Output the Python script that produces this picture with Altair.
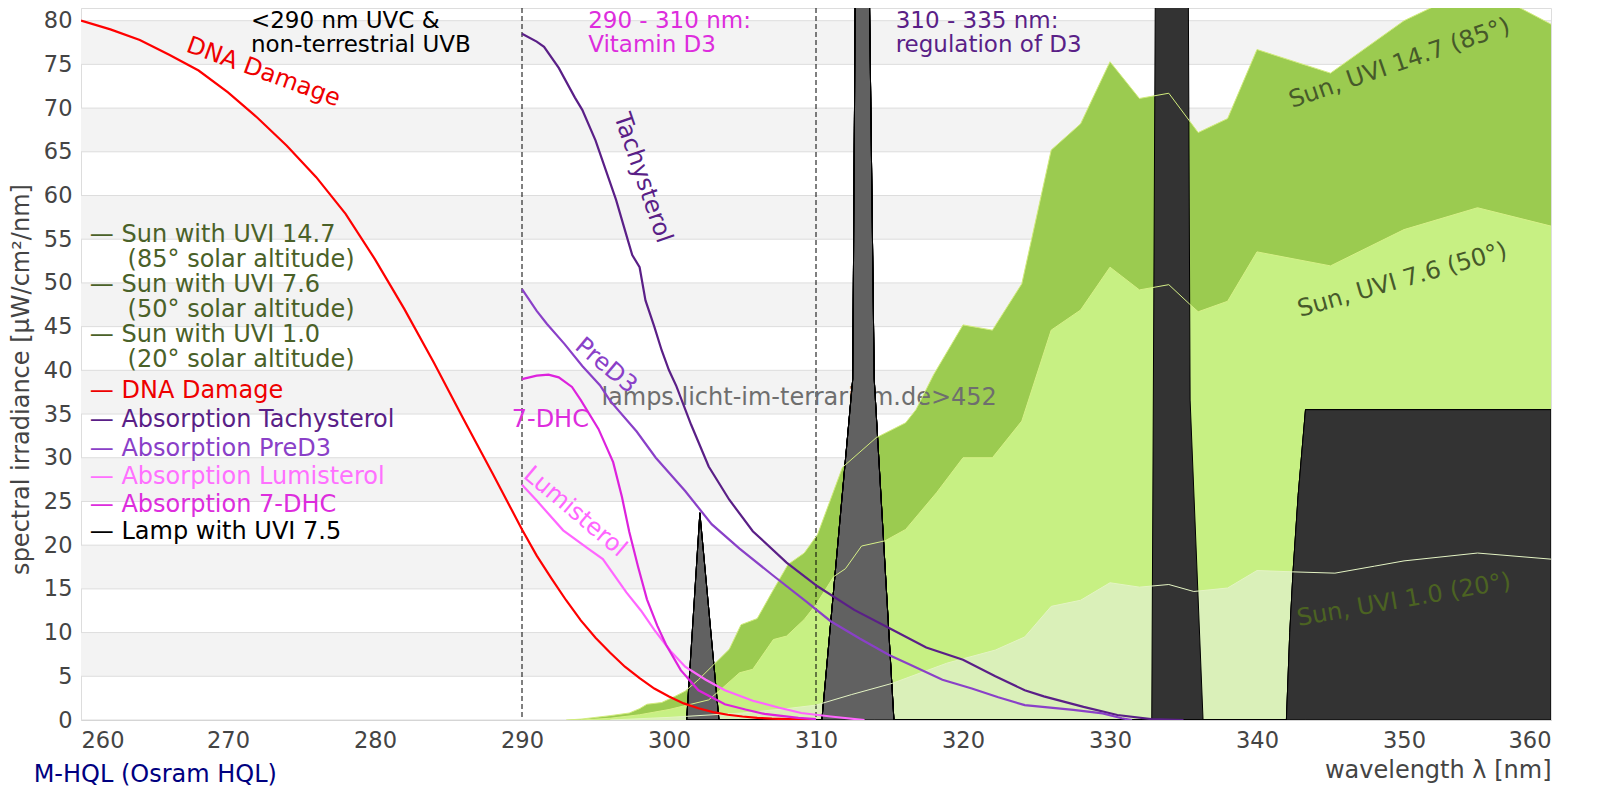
import altair as alt
import pandas as pd

FONT = "DejaVu Sans"
FS = 24          # annotation / legend / title text
FS_NOTE = 23     # region notes at the top
FS_TICK = 22.5   # tick labels
W, H = 1470, 712
Y_MAX = 81.45

# ---------------- data ----------------
dna_nm = [260, 262, 264, 266, 268, 270, 272, 274, 276, 278, 280, 282, 284, 286, 288, 290,
          291, 292, 293, 294, 295, 296, 297, 298, 299, 300, 301, 302, 303, 304, 305, 306, 307, 308, 310]
dna_val = [80.0, 79.0, 77.8, 76.1, 74.3, 71.8, 68.9, 65.7, 62.1, 57.9, 52.7, 47.0, 40.9, 34.5, 28.2, 21.8,
           18.8, 16.2, 13.7, 11.4, 9.4, 7.7, 6.1, 4.8, 3.6, 2.7, 1.9, 1.35, 0.9, 0.6, 0.4, 0.25, 0.15, 0.1, 0.05]

tachy_nm = [290, 291, 291.5, 292.5, 293.6, 294.1, 295, 295.7, 296.4, 297.2, 297.5, 298, 298.4, 299, 299.5,
            300, 300.5, 301.5, 302.7, 304.1, 305.7, 308, 310.1, 312.6, 315, 317.5, 320, 322.2, 324.2, 325.5,
            328.2, 330.5, 332.8, 335]
tachy_val = [78.5, 77.6, 77.0, 74.6, 71.2, 69.8, 66.3, 62.9, 59.5, 54.9, 53.2, 51.8, 48.0, 45.0, 42.3,
             40.0, 38.2, 33.8, 29.0, 25.2, 21.6, 18.0, 15.3, 12.6, 10.5, 8.3, 6.9, 5.0, 3.4, 2.7,
             1.5, 0.57, 0.1, 0.0]

pred3_nm = [290, 291, 291.7, 292.9, 294.1, 295.3, 296, 297.8, 299.1, 301.1, 302.9, 304.8, 307.1, 309.3, 311,
            313, 315, 316.3, 318.6, 320.6, 322.4, 324.2, 327.5, 329.5, 330.8, 331.5]
pred3_val = [49.3, 46.8, 45.3, 43.0, 40.5, 38.3, 36.5, 33.0, 30.0, 26.2, 22.4, 19.6, 16.5, 13.6, 11.3,
             9.3, 7.4, 6.4, 4.6, 3.6, 2.6, 1.7, 1.15, 0.76, 0.2, 0.0]

dhc_nm = [290, 291, 291.8, 292.5, 293.4, 294, 295.2, 296.2, 296.8, 297.3, 297.9, 298.5, 299.2, 299.8, 300.8,
          302, 303.8, 305.2, 306.5, 308.8, 310]
dhc_val = [39.0, 39.4, 39.5, 39.2, 38.1, 36.6, 33.3, 29.5, 25.5, 21.5, 17.5, 13.8, 10.8, 8.6, 5.7,
           3.4, 1.8, 1.2, 0.7, 0.25, 0.1]

lumi_nm = [290, 291, 292.8, 294.5, 295.5, 297.1, 298.1, 299, 300.1, 301.1, 302.5, 303.8, 305.7, 307.5, 309,
           311, 313.3]
lumi_val = [26.9, 25.1, 21.7, 19.6, 18.4, 14.6, 12.5, 10.3, 7.9, 6.1, 4.6, 3.4, 2.2, 1.4, 0.8,
            0.4, 0.0]

sun147_nm = [293, 294, 295, 296, 297.3, 298, 298.5, 299.5, 300.4, 301.1, 302, 302.9, 304.1, 304.9, 306,
             307.1, 308.1, 309.2, 310.1, 311.8, 314.1, 316.1, 316.8, 318, 320, 322, 324, 326, 328, 330,
             332, 334, 336, 338, 340, 345, 350, 355, 360]
sun147_val = [0.0, 0.1, 0.3, 0.5, 0.8, 1.3, 1.8, 2.0, 2.7, 3.3, 4.6, 6.1, 8.1, 10.9, 11.6,
              14.9, 17.8, 19.1, 21.2, 28.9, 32.3, 34.0, 35.5, 39.5, 45.2, 44.6, 49.9, 65.2, 68.2, 75.3,
              71.1, 71.7, 67.2, 68.8, 76.7, 74.0, 80.0, 84.0, 79.6]

sun76_nm = [294, 296, 298, 300, 301, 302.7, 303.6, 304.8, 305.7, 307.1, 308, 309.2, 310, 311.2, 312,
            313.1, 314.7, 316.1, 318.2, 320, 322, 324, 326, 328, 330, 332, 334, 335.4, 336, 338, 340,
            345, 350, 355, 360]
sun76_val = [0.0, 0.2, 0.6, 1.2, 1.6, 2.3, 3.6, 5.4, 5.8, 9.2, 9.6, 11.5, 13.2, 16.4, 17.3,
             19.9, 20.5, 21.8, 26.0, 30.0, 30.0, 34.2, 44.6, 46.9, 51.8, 49.2, 49.8, 47.6, 46.7, 47.9, 53.55,
             51.95, 56.1, 58.6, 56.5]

sun10_nm = [296, 300, 305, 308, 310, 312.4, 315.2, 318.9, 322.2, 324.2, 326, 328, 330, 332, 334, 335.7,
            338, 340, 342.4, 345.3, 348, 350, 355, 360]
sun10_val = [0.0, 0.3, 0.8, 1.3, 1.7, 2.9, 4.2, 6.5, 8.0, 9.5, 13.0, 13.7, 15.7, 15.2, 15.5, 14.7,
             15.1, 17.1, 16.95, 16.8, 17.6, 18.2, 19.1, 18.4]

# lamp spectrum (M-HQL), one list per emission peak
lamp_a_nm = [301.2, 302.1, 303.4]
lamp_a_val = [0.0, 23.7, 0.0]
lamp_b_nm = [310.4, 312.5, 313.0, 313.96, 315.3]
lamp_b_val = [0.0, 39.0, 169.0, 39.0, 0.0]
lamp_c_nm = [332.84, 334.26, 335.45, 336.33]
lamp_c_val = [0.0, 490.0, 36.6, 0.0]
lamp_d_nm = [342.0, 342.23, 342.45, 342.8, 343.3, 360.0]
lamp_d_val = [0.0, 10.0, 16.9, 25.7, 35.5, 35.5]

band_lo = [5, 15, 25, 35, 45, 55, 65, 75]
grid_vals = list(range(0, 85, 5))
x_ticks = list(range(260, 370, 10))
region_lines = [290, 310]

legend_text = ["— Sun with UVI 14.7", "(85° solar altitude)", "— Sun with UVI 7.6", "(50° solar altitude)",
               "— Sun with UVI 1.0", "(20° solar altitude)", "— DNA Damage", "— Absorption Tachysterol",
               "— Absorption PreD3", "— Absorption Lumisterol", "— Absorption 7-DHC", "— Lamp with UVI 7.5"]
legend_nm = [260.6, 263.17, 260.6, 263.17, 260.6, 263.17, 260.6, 260.6, 260.6, 260.6, 260.6, 260.6]
legend_val = [55.46, 52.6, 49.74, 46.88, 44.02, 41.16, 37.6, 34.3, 31.0, 27.8, 24.6, 21.5]
legend_color = ["#4a6128", "#4a6128", "#4a6128", "#4a6128", "#4a6128", "#4a6128", "#ee0000", "#5a1f87",
                "#8a40c8", "#ff70ff", "#dd2ddd", "#000000"]

note_text = ["<290 nm UVC &", "non-terrestrial UVB", "290 - 310 nm:", "Vitamin D3",
             "310 - 335 nm:", "regulation of D3"]
note_nm = [271.56, 271.56, 294.5, 294.5, 315.42, 315.42]
note_val = [79.95, 77.25, 79.95, 77.25, 79.95, 77.25]
note_color = ["#000000", "#000000", "#dd2ddd", "#dd2ddd", "#5a1f87", "#5a1f87"]

side_text = ["7-DHC", "M-HQL (Osram HQL)"]
side_nm = [289.3, 256.78]
side_val = [34.3, -6.3]
side_color = ["#dd2ddd", "#000080"]

label_text = ["DNA Damage", "Tachysterol", "PreD3", "Lumisterol",
              "Sun, UVI 14.7 (85°)", "Sun, UVI 7.6 (50°)", "Sun, UVI 1.0 (20°)"]
label_nm = [272.4, 298.2, 295.7, 293.6, 349.7, 349.9, 350.0]
label_val = [74.1, 62.0, 40.5, 23.8, 75.1, 50.3, 13.7]
label_angle = [20, 71, 40, 40, 341, 344, 350]
label_color = ["#ee0000", "#5a1f87", "#8a40c8", "#ff66ff", "#46592a", "#46592a", "#4c6322"]

watermark = "lamps.licht-im-terrarium.de>452"
watermark_nm = 295.4
watermark_val = 36.8

# ---------------- chart ----------------
xs = alt.Scale(domain=[260, 360], nice=False, zero=False)
ys = alt.Scale(domain=[0, Y_MAX], nice=False, zero=False)


def series(nm, val, **extra):
    d = pd.DataFrame({"nm": nm, "v": val})
    for k, x in extra.items():
        d[k] = x
    return d


bands = alt.Chart(pd.DataFrame({"v": band_lo, "v2": [b + 5 for b in band_lo]})).mark_rect(
    color="#f3f3f3").encode(
    x=alt.value(0), x2=alt.value(W),
    y=alt.Y("v:Q", scale=ys,
            axis=alt.Axis(values=grid_vals, ticks=False, grid=False, domain=True, domainColor="#dddddd",
                          labelPadding=9, labelFontSize=FS_TICK, labelColor="#444444", labelFont=FONT,
                          title="spectral irradiance [µW/cm²/nm]", titleFontSize=FS, titleFont=FONT,
                          titleFontWeight="normal", titleColor="#444444", titleX=-48, titleY=371)),
    y2="v2:Q")

grid = alt.Chart(pd.DataFrame({"v": grid_vals})).mark_rule(color="#dddddd", strokeWidth=1).encode(
    x=alt.value(0), x2=alt.value(W), y=alt.Y("v:Q", scale=ys))


def area(nm, val, color):
    return alt.Chart(series(nm, val)).mark_area(color=color, clip=True, interpolate="linear").encode(
        x=alt.X("nm:Q", scale=xs), y=alt.Y("v:Q", scale=ys))


sun_areas = [area(sun147_nm, sun147_val, "#9bcb50"),
             area(sun76_nm, sun76_val, "#c7f083"),
             area(sun10_nm, sun10_val, "#daf0b9")]

dashed = alt.Chart(pd.DataFrame({"nm": region_lines})).mark_rule(
    color="#000000", strokeDash=[5, 3], strokeWidth=1).encode(
    x=alt.X("nm:Q", scale=xs), y=alt.value(0), y2=alt.value(H))

wm = alt.Chart(pd.DataFrame({"nm": [watermark_nm], "v": [watermark_val], "t": [watermark]})).mark_text(
    align="left", baseline="middle", font=FONT, fontSize=FS, color="#6e6e6e").encode(
    x=alt.X("nm:Q", scale=xs), y=alt.Y("v:Q", scale=ys), text="t:N")

lamp_df = pd.concat([
    series(lamp_a_nm, lamp_a_val, g="a", c="#616161"),
    series(lamp_b_nm, lamp_b_val, g="b", c="#616161"),
    series(lamp_c_nm, lamp_c_val, g="c", c="#333333"),
    series(lamp_d_nm, lamp_d_val, g="d", c="#333333"),
])
lamp = alt.Chart(lamp_df).mark_area(stroke="#000000", strokeWidth=1, clip=True).encode(
    x=alt.X("nm:Q", scale=xs), y=alt.Y("v:Q", scale=ys),
    detail="g:N", color=alt.Color("c:N", scale=None))


def line(nm, val, color, width=2.2):
    return alt.Chart(series(nm, val)).mark_line(color=color, strokeWidth=width, clip=True).encode(
        x=alt.X("nm:Q", scale=xs), y=alt.Y("v:Q", scale=ys))


sun_lines = [line(sun147_nm, sun147_val, "#d2ec7c", 1),
             line(sun76_nm, sun76_val, "#d6f088", 1),
             line(sun10_nm, sun10_val, "#e4f4c4", 1)]

dna = alt.Chart(series(dna_nm, dna_val)).mark_line(color="#ff0000", strokeWidth=2.2, clip=True).encode(
    x=alt.X("nm:Q", scale=xs,
            axis=alt.Axis(values=x_ticks, ticks=False, grid=False, domain=True, domainColor="#cccccc",
                          labelPadding=9, labelFontSize=FS_TICK, labelColor="#444444", labelFont=FONT,
                          title="wavelength λ [nm]", titleFontSize=FS, titleFont=FONT,
                          titleFontWeight="normal", titleColor="#444444", titleAnchor="end",
                          titleAlign="right", titleX=W, titleY=50, titleBaseline="middle")),
    y=alt.Y("v:Q", scale=ys))

abs_lines = [line(tachy_nm, tachy_val, "#5a1f87"),
             line(pred3_nm, pred3_val, "#8a40c8"),
             line(lumi_nm, lumi_val, "#ff66ff"),
             line(dhc_nm, dhc_val, "#dd22dd")]


def text_layer(nm, val, txt, col, size):
    return alt.Chart(pd.DataFrame({"nm": nm, "v": val, "t": txt, "c": col})).mark_text(
        align="left", baseline="middle", font=FONT, fontSize=size).encode(
        x=alt.X("nm:Q", scale=xs), y=alt.Y("v:Q", scale=ys), text="t:N",
        color=alt.Color("c:N", scale=None))


legend = text_layer(legend_nm, legend_val, legend_text, legend_color, FS)
notes = text_layer(note_nm, note_val, note_text, note_color, FS_NOTE)
side = text_layer(side_nm, side_val, side_text, side_color, FS)

labels = alt.Chart(pd.DataFrame({"nm": label_nm, "v": label_val, "t": label_text,
                                 "c": label_color, "a": label_angle})).mark_text(
    align="center", baseline="middle", font=FONT, fontSize=FS).encode(
    x=alt.X("nm:Q", scale=xs), y=alt.Y("v:Q", scale=ys), text="t:N",
    color=alt.Color("c:N", scale=None), angle=alt.Angle("a:Q", scale=None))

chart = alt.layer(
    bands, grid, *sun_areas, dashed, wm, lamp, *sun_lines, dna, *abs_lines, legend, notes, side, labels
).properties(
    width=W, height=H,
    autosize=alt.AutoSizeParams(type="none"),
    padding={"left": 73, "top": 0, "right": 30, "bottom": 70},
).configure_view(stroke=None).configure(background="#ffffff")

chart.save("out.html", embed_options={"renderer": "svg", "actions": False})
